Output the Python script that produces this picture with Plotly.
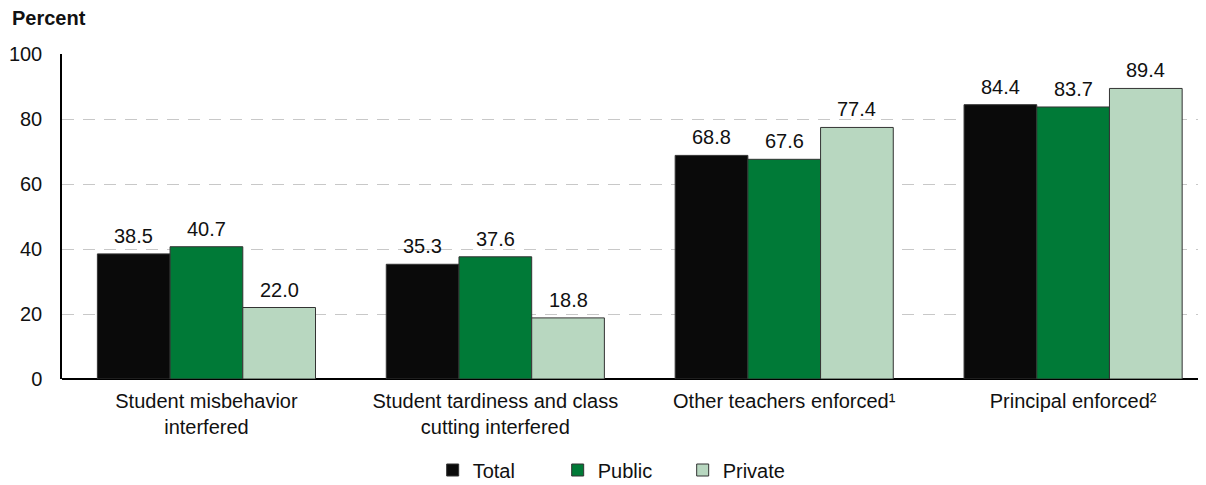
import plotly.graph_objects as go

categories = [
    "Student misbehavior<br>interfered",
    "Student tardiness and class<br>cutting interfered",
    "Other teachers enforced¹",
    "Principal enforced²",
]
total = [38.5, 35.3, 68.8, 84.4]
public = [40.7, 37.6, 67.6, 83.7]
private = [22.0, 18.8, 77.4, 89.4]

series = [
    ("Total", total, "#0a0a0a"),
    ("Public", public, "#007a37"),
    ("Private", private, "#b8d7c0"),
]

font = "Liberation Sans, Arial, sans-serif"

# page body adds an 8px offset, so the figure is a bit smaller
W, H = 1198, 477
ML, MT, MB = 54, 46, 106
plot_h = H - MT - MB
plot_w = W - ML
x_range = [-0.5, 3.46]
bargap = 0.245
bar_px = plot_w / (x_range[1] - x_range[0]) * (1 - bargap) / len(series)

fig = go.Figure()
annotations = []
for i, (name, vals, color) in enumerate(series):
    fig.add_trace(go.Bar(
        x=categories, y=vals, name=name,
        marker=dict(color=color, line=dict(color="#333333", width=1)),
    ))
    # value labels sit a little higher above the bars than plotly's outside text
    for cat, v in zip(categories, vals):
        annotations.append(dict(
            x=cat, y=v, text=f"{v:.1f}", showarrow=False,
            xshift=(i - 1) * bar_px, yshift=5, yanchor="bottom",
            font=dict(size=20, color="#111111"),
        ))

annotations.append(dict(
    text="<b>Percent</b>", xref="paper", yref="paper",
    x=(2 - ML) / plot_w, y=1 + (MT - 10) / plot_h,
    xanchor="left", yanchor="middle",
    showarrow=False, font=dict(size=20),
))

fig.update_layout(
    width=W, height=H,
    margin=dict(l=ML, r=0, t=MT, b=MB),
    plot_bgcolor="white", paper_bgcolor="white",
    font=dict(family=font, size=20, color="#111111"),
    barmode="group", bargap=bargap, bargroupgap=0,
    showlegend=True,
    legend=dict(
        orientation="h", xref="container", yref="container",
        x=0.511, xanchor="center", y=1 - 462 / H, yanchor="middle",
        font=dict(size=20), entrywidth=80, entrywidthmode="pixels",
        traceorder="normal",
    ),
    annotations=annotations,
)
fig.update_xaxes(
    range=x_range, showline=False, ticks="", showgrid=False,
    tickfont=dict(size=20), ticklabelstandoff=8,
)
fig.update_yaxes(
    range=[0, 100], dtick=20, showline=True, linecolor="black", linewidth=1.5,
    showgrid=True, gridcolor="#c8c8c8", griddash="12px,9px", gridwidth=1,
    zeroline=True, zerolinecolor="black", zerolinewidth=1.5,
    ticks="", ticklen=0, tickfont=dict(size=20), ticklabelstandoff=14,
)

fig.write_html("out.html")
